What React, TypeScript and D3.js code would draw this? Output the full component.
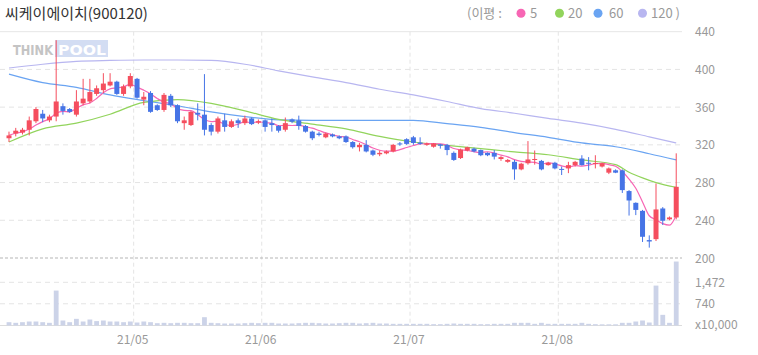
import React from "react";
import * as d3 from "d3";

const TITLE = "씨케이에이치(900120)";
const OPEN = [327,332,333,336,345,353,346,350,361,358,352,364,366,374,378,383,387,374,382,390,368,375,362,357,372,362,343,341,354,352,341,334,346,339,346,343,348,343.5,346,343,340,336,347,346,340,334,332,328,331,329,329,323,317.5,320,314,310,311,313,321.5,326,328,322.5,320,318,320.5,320,311.5,306,314,316,314.5,311.5,311.5,305,302,302,294,300.5,304,303,298.5,301,294.5,295,298.5,305.5,301,300,297,290.5,293,293,271,258.5,250,219,220,252.5,241,243];
const HIGH = [334,338,338,350,360,357,352,431,364,359,378,390,390,383,396,396,388,384,396,391,376,377,363,375,374,363,350,356,364,395,343,350,353,347,348,351,349,347,347,348,341,349,348,351,341,335,334,333,332,330,330,324,322,325,315,314,314,321,323,327,329.5,328,322.5,322,321,321,313,316,318,317,315,312,314.5,308,305,304,301,324,314,304,302,302,297,302,303,309,307,309,301,296,294,294,272,259,251,224,279,254,244,311];
const LOW = [323,329,331,330,343,344,344,345,352,354,350,362,364,372,375,382,373,372,380,369,362,354,356,355,360,343,336,340,346,330,330,332,334,338,338,341,341,342,334,334,333,334,343,336,333,325,329,327,328,326,322,316,313,312,308,308,310,312,319,320,320,320,319,317,316,309,303,305,313,312,308,308,304.5,303,301,283,293,299,299,293,298,294,288,290,297,298,293,295,296,289,290,269,245,245.5,217,211,218,235,240,241];
const CLOSE = [330,335,336,346,358,348,350,366,356,355,366,369,376,380,385,387,374,382,393,370,371,355,357,373,362,345,346,355,352,336,334,348,339,345,343,348,342,345,339,341,335,343,344.5,340,334,327,330.5,332,329,327,323,317.5,320,313,309.5,311.5,313,320,320.5,321,322,321,321.5,321.5,319,314.5,304,315,317.5,313,309,309,307.5,307,304,294,300,304.5,305,294,301,295,293.5,298.5,302,298.5,300,300.8,300.4,295,290.5,272,261,251,222.5,217.5,251.5,239.5,243,275.5];
const VOLUME = [113,91,113,136,136,113,91,1190,170,113,227,136,204,150,170,136,136,113,136,102,136,113,79,91,79,91,91,79,79,283,91,79,68,68,68,79,91,79,91,91,68,68,68,79,91,91,79,68,68,79,91,91,68,79,91,68,68,57,57,57,57,57,57,45,45,57,68,57,57,57,45,45,57,57,57,91,91,91,57,91,57,57,57,57,57,91,57,45,40,40,40,91,91,136,170,102,1360,363,91,2180];

const MA20_IDX = [0,5,10,15,20,25,30,35,40,45,50,55,60,65,70,75,80,85,90,92,94,96,99];
const MA20_VAL = [323,337,343,352.5,365,368,364,356,347,342,337,329,323,319.5,316,312.5,309.5,304,299,291,285,280,275];
const MA_IDX = [0,5,10,15,20,25,30,35,40,45,50,55,60,65,70,75,80,85,90,95,99];
const MA60_VAL = [395,386,381,373,367,361.5,355,350,346.5,346,346,346,346,342.5,338.5,333,328,322,318,310.6,304];
const MA120_VAL = [401.5,405.5,408.5,409.5,410,410,409.5,405.5,398.5,392,386,379,373,366,358.5,353.5,348,343,336.5,328.5,322];

const PRICE_TICKS = [200,240,280,320,360,400,440];
const VOL_TICKS = [740,1472];
const MONTH_IDX = [19,38,60,82];
const MONTH_LABELS = ["21/05","21/06","21/07","21/08"];
const LEGEND_LABELS = ["5","20","60","120 )"];

const COLORS = { up: "#f54e5e", down: "#4674e6", ma5: "#f766b4", ma20: "#92d45c", ma60: "#6aa4f2", ma120: "#b8b6f0", vol: "#ccd3e8" };
const FONT = "'Noto Sans CJK KR', 'Noto Sans', sans-serif";

export default function App() {
  const n = CLOSE.length;
  const x = d3.scaleBand<number>().domain(d3.range(n)).range([5.63, 679.6]).padding(0);
  const step = x.step();
  const cx = (i: number) => (x(i) as number) + step / 2;
  const y = d3.scaleLinear().domain([200, 440]).range([258, 31.7]);
  const yv = d3.scaleLinear().domain([0, 1472]).range([325.5, 282.3]);

  const ma5 = CLOSE.map((_, i) => d3.mean(CLOSE.slice(Math.max(0, i - 4), i + 1)) as number);
  const line = d3.line<[number, number]>().x(d => cx(d[0])).y(d => y(d[1])).curve(d3.curveMonotoneX);
  const ma5Path = line(ma5.map((v, i) => [i, v] as [number, number]));
  const ma20Path = line(MA20_IDX.map((i, k) => [i, MA20_VAL[k]] as [number, number]));
  const ma60Path = line(MA_IDX.map((i, k) => [i, MA60_VAL[k]] as [number, number]));
  const ma120Path = line(MA_IDX.map((i, k) => [i, MA120_VAL[k]] as [number, number]));

  const right = 682;
  const bw = 5;
  const legendColors = [COLORS.ma5, COLORS.ma20, COLORS.ma60, COLORS.ma120];
  const legendDotX = [521, 559.5, 598, 642.5];
  const legendTextX = [530, 568, 609, 651];

  return (
    <svg width={758} height={355} style={{ position: "absolute", left: 0, top: 0, background: "#fff" }} fontFamily={FONT}>
      <text x={5} y={19} fontSize={15} fill="#333">{TITLE}</text>
      <text x={467} y={18} fontSize={13} fill="#999">(이평 :</text>
      {LEGEND_LABELS.map((l, k) => (
        <g key={k}>
          <circle cx={legendDotX[k]} cy={13.3} r={4.5} fill={legendColors[k]} />
          <text x={legendTextX[k]} y={18} fontSize={13} fill="#999">{l}</text>
        </g>
      ))}

      {/* grid */}
      <line x1={0} x2={right} y1={y(440)} y2={y(440)} stroke="#e6e6e6" />
      {PRICE_TICKS.filter(t => t !== 440 && t !== 200).map(t => (
        <line key={t} x1={0} x2={right} y1={y(t)} y2={y(t)} stroke="#e4e4e4" strokeDasharray="5,4" />
      ))}
      {VOL_TICKS.map(t => (
        <line key={t} x1={0} x2={right} y1={yv(t)} y2={yv(t)} stroke="#e4e4e4" strokeDasharray="5,4" />
      ))}
      {MONTH_IDX.map(i => (
        <line key={i} x1={x(i) as number} x2={x(i) as number} y1={y(440)} y2={yv(0)} stroke="#e4e4e4" strokeDasharray="4,3" />
      ))}
      <line x1={0} x2={right} y1={y(200)} y2={y(200)} stroke="#b5b5b5" strokeDasharray="3,2" />
      <line x1={0} x2={right} y1={yv(0)} y2={yv(0)} stroke="#dcdcdc" />

      {/* logo */}
      <g>
        <rect x={55} y={40} width={53} height={17} fill="#d3ddf3" />
        <text x={13} y={55} fontSize={14} fontWeight={900} fill="#c4c4c4" fontFamily="'DejaVu Sans', sans-serif" textLength={40} lengthAdjust="spacingAndGlyphs">THINK</text>
        <text x={58} y={55} fontSize={14} fontWeight={900} fill="#fff" fontFamily="'DejaVu Sans', sans-serif" textLength={48} lengthAdjust="spacingAndGlyphs">POOL</text>
      </g>

      {/* axis labels */}
      {PRICE_TICKS.map(t => (
        <text key={t} x={695} y={y(t) + 4.5} fontSize={12} fill="#999">{t}</text>
      ))}
      {VOL_TICKS.map(t => (
        <text key={t} x={695} y={yv(t) + 4.5} fontSize={12} fill="#999">{d3.format(",")(t)}</text>
      ))}
      <text x={695} y={yv(0) + 3} fontSize={12} fill="#999">x10,000</text>
      {MONTH_IDX.map((i, k) => (
        <text key={i} x={(x(i) as number) - 1} y={344} fontSize={12} fill="#999" textAnchor="middle">{MONTH_LABELS[k]}</text>
      ))}

      {/* volume */}
      {VOLUME.map((v, i) => (
        <rect key={i} x={cx(i) - 2.4} width={4.8} y={yv(v)} height={yv(0) - yv(v)} fill={COLORS.vol} />
      ))}

      {/* moving averages */}
      <path d={ma120Path || ""} fill="none" stroke={COLORS.ma120} strokeWidth={1.2} />
      <path d={ma60Path || ""} fill="none" stroke={COLORS.ma60} strokeWidth={1.2} />
      <path d={ma20Path || ""} fill="none" stroke={COLORS.ma20} strokeWidth={1.2} />
      <path d={ma5Path || ""} fill="none" stroke={COLORS.ma5} strokeWidth={1.2} />

      {/* candles */}
      {CLOSE.map((c, i) => {
        const o = OPEN[i];
        const up = c >= o;
        const col = up ? COLORS.up : COLORS.down;
        const top = y(Math.max(o, c));
        const h = Math.max(1, y(Math.min(o, c)) - top);
        return (
          <g key={i}>
            <line x1={cx(i)} x2={cx(i)} y1={y(HIGH[i])} y2={y(LOW[i])} stroke={col} strokeWidth={1} />
            <rect x={cx(i) - bw / 2} width={bw} y={top} height={h} fill={col} />
          </g>
        );
      })}
    </svg>
  );
}
